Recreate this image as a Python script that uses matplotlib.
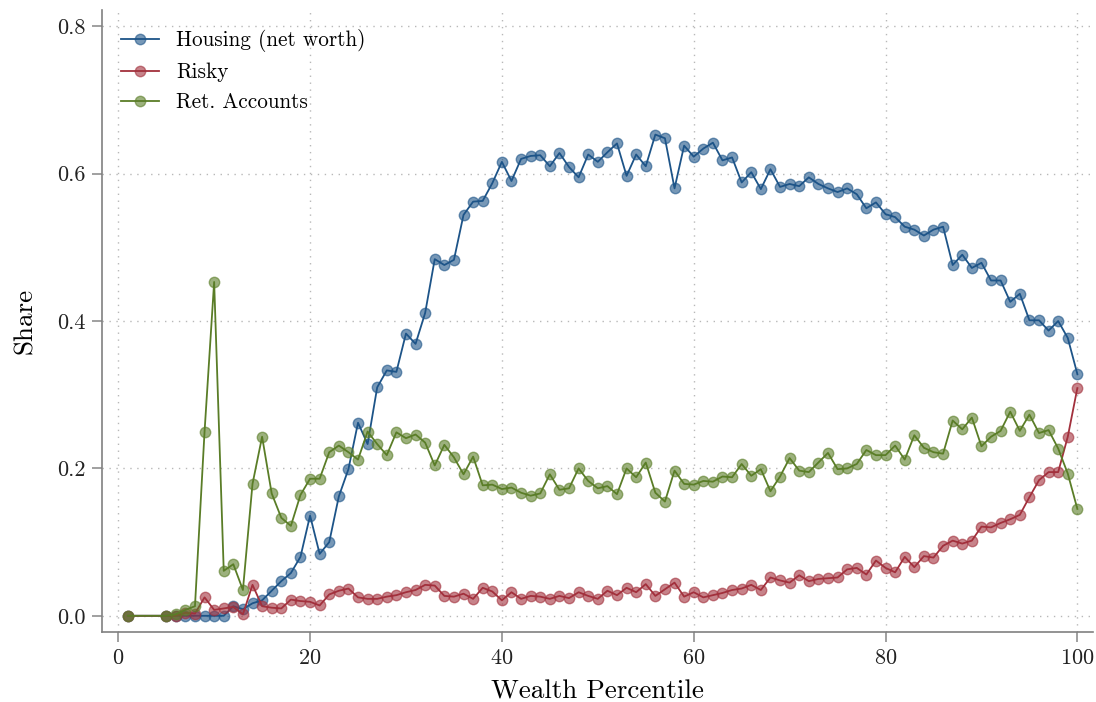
import numpy as np
import matplotlib
matplotlib.use("Agg")
import matplotlib.pyplot as plt

plt.rcParams['font.family'] = ['cmr10', 'DejaVu Serif']
plt.rcParams['mathtext.fontset'] = 'cm'
plt.rcParams['axes.formatter.use_mathtext'] = True

# percentiles (2-4 are missing in the source)
pct = [1] + list(range(5, 101))

housing = [0.0, 0.0, 0.0, 0.0, 0.0, 0.0, 0.0, 0.0, 0.013, 0.009, 0.017,
           0.021, 0.034, 0.047, 0.058, 0.080, 0.136, 0.084, 0.100, 0.162, 0.199,
           0.262, 0.233, 0.310, 0.333, 0.331, 0.383, 0.369, 0.411, 0.484, 0.476,
           0.483, 0.544, 0.562, 0.563, 0.587, 0.616, 0.590, 0.620, 0.624, 0.625,
           0.610, 0.628, 0.609, 0.595, 0.626, 0.616, 0.629, 0.641, 0.597, 0.626,
           0.610, 0.653, 0.648, 0.580, 0.638, 0.623, 0.634, 0.642, 0.618, 0.622,
           0.588, 0.602, 0.579, 0.606, 0.582, 0.586, 0.583, 0.595, 0.586, 0.580,
           0.575, 0.580, 0.572, 0.553, 0.561, 0.545, 0.541, 0.528, 0.524, 0.516,
           0.524, 0.528, 0.476, 0.490, 0.472, 0.479, 0.455, 0.455, 0.426, 0.437,
           0.401, 0.401, 0.387, 0.400, 0.377, 0.328]

risky = [0.0, 0.0, 0.0, 0.004, 0.003, 0.025, 0.008, 0.010, 0.012, 0.002,
         0.042, 0.013, 0.011, 0.010, 0.022, 0.020, 0.019, 0.014, 0.029, 0.034,
         0.037, 0.025, 0.023, 0.023, 0.026, 0.028, 0.032, 0.035, 0.042, 0.041,
         0.027, 0.026, 0.030, 0.023, 0.038, 0.033, 0.021, 0.032, 0.023, 0.027,
         0.026, 0.023, 0.027, 0.024, 0.032, 0.027, 0.023, 0.034, 0.028, 0.038,
         0.032, 0.043, 0.027, 0.036, 0.045, 0.026, 0.032, 0.025, 0.028, 0.031,
         0.035, 0.037, 0.042, 0.035, 0.052, 0.048, 0.045, 0.055, 0.047, 0.050,
         0.051, 0.052, 0.063, 0.065, 0.056, 0.075, 0.065, 0.059, 0.080, 0.066,
         0.081, 0.079, 0.095, 0.102, 0.098, 0.102, 0.121, 0.120, 0.126, 0.131,
         0.137, 0.161, 0.184, 0.195, 0.195, 0.243, 0.309]

ret_accounts = [0.0, 0.0, 0.002, 0.008, 0.013, 0.250, 0.453, 0.061, 0.070,
                0.035, 0.179, 0.243, 0.166, 0.133, 0.122, 0.164, 0.186, 0.186,
                0.222, 0.231, 0.222, 0.212, 0.250, 0.233, 0.218, 0.249, 0.241,
                0.246, 0.235, 0.204, 0.232, 0.215, 0.192, 0.216, 0.177, 0.178,
                0.172, 0.174, 0.167, 0.163, 0.166, 0.192, 0.171, 0.173, 0.200,
                0.183, 0.173, 0.176, 0.165, 0.200, 0.188, 0.208, 0.167, 0.155,
                0.197, 0.179, 0.178, 0.183, 0.182, 0.189, 0.188, 0.206, 0.190,
                0.199, 0.169, 0.189, 0.214, 0.197, 0.195, 0.208, 0.221, 0.199,
                0.200, 0.206, 0.225, 0.218, 0.218, 0.231, 0.212, 0.245, 0.228,
                0.222, 0.220, 0.265, 0.253, 0.269, 0.230, 0.243, 0.251, 0.277,
                0.251, 0.273, 0.248, 0.252, 0.227, 0.193, 0.145]

series = [
    ("Housing (net worth)", housing, "#1d5488"),
    ("Risky", risky, "#a2303c"),
    ("Ret. Accounts", ret_accounts, "#5a7d27"),
]

fig = plt.figure(figsize=(10.96, 7.02), dpi=100)
ax = fig.add_axes([0.093, 0.0997, 0.904, 0.886])

for name, vals, col in series:
    rgba = matplotlib.colors.to_rgba(col, 0.6)
    ax.plot(pct, vals, color=col, lw=1.3, marker="o", markersize=7.5,
            markerfacecolor=rgba, markeredgecolor=rgba, markeredgewidth=1.0,
            label=name)

ax.set_xlim(-1.7, 101.6)
ax.set_ylim(-0.022, 0.822)
ax.set_xticks([0, 20, 40, 60, 80, 100])
ax.set_yticks([0.0, 0.2, 0.4, 0.6, 0.8])
ax.set_yticklabels(["0.0", "0.2", "0.4", "0.6", "0.8"])

ax.grid(True, linestyle=(0, (1, 4)), color="#b8b8b8", lw=1.0)
for s in ["top", "right"]:
    ax.spines[s].set_visible(False)
for s in ["left", "bottom"]:
    ax.spines[s].set_color("#808080")
    ax.spines[s].set_linewidth(1.2)
ax.tick_params(axis="both", colors="#909090", labelcolor="#222222",
               labelsize=16, length=7, width=1.2, pad=5)

ax.set_xlabel("Wealth Percentile", fontsize=19.5, labelpad=8)
ax.set_ylabel("Share", fontsize=19.5, labelpad=14)

ax.legend(loc="upper left", frameon=False, fontsize=15.3,
          handlelength=1.8, handletextpad=0.8, borderaxespad=0.5,
          labelspacing=0.5)

fig.savefig("out.png", dpi=100)
